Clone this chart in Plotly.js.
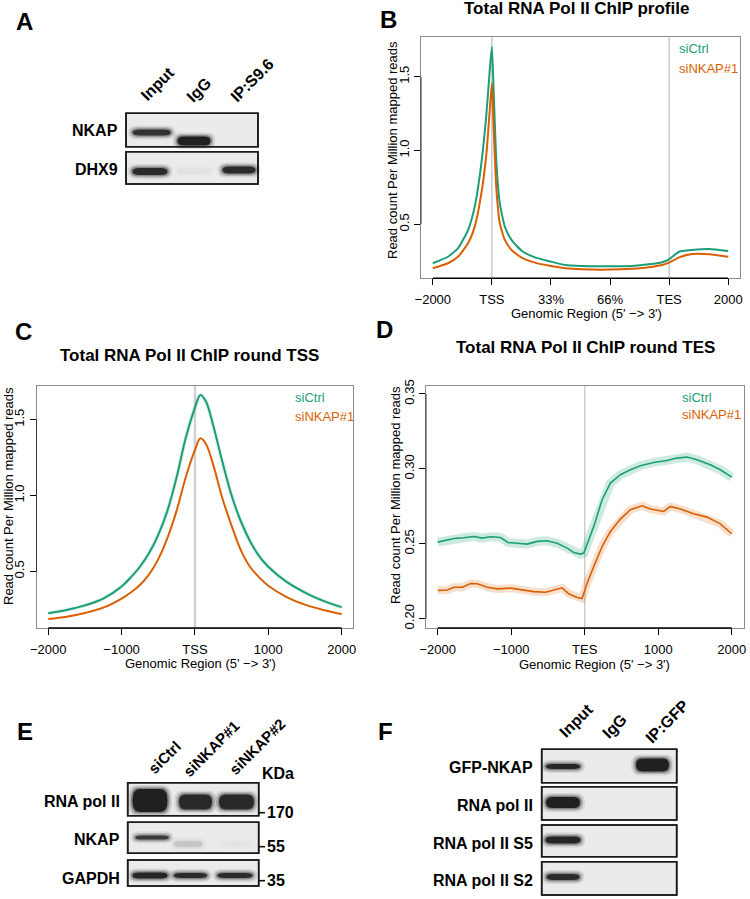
<!DOCTYPE html>
<html><head><meta charset="utf-8">
<script src="https://cdn.plot.ly/plotly-3.0.1.min.js"></script>
<style>html,body{margin:0;padding:0;background:#fff}#chart{width:750px;height:899px}</style>
</head><body><div id="chart"></div>
<script>
// ================= DATA =================
// Panel B: metagene profile (x in scaled units: -2000, TSS, 33%, 66%, TES, 2000)
const profileTickText = ['\u22122000','TSS','33%','66%','TES','2000'];
const profileX    = [0,0.256,0.426,0.596,0.709,0.822,0.908,0.964,1.0,1.03,1.077,1.134,1.219,1.332,1.503,1.729,2.0,2.24,2.52,3.0,3.37,3.66,3.88,4.0,4.17,4.39,4.68,5.0];
const profileCtrl = [0.236,0.280,0.337,0.461,0.619,0.913,1.252,1.544,1.703,1.40,0.913,0.642,0.484,0.394,0.321,0.276,0.247,0.224,0.217,0.216,0.218,0.229,0.243,0.263,0.314,0.326,0.333,0.319];
const profileNKAP = [0.202,0.236,0.280,0.371,0.484,0.710,0.981,1.274,1.455,1.15,0.732,0.507,0.394,0.326,0.274,0.240,0.217,0.202,0.195,0.193,0.199,0.209,0.224,0.240,0.276,0.299,0.297,0.280];

// Panel C: around TSS
const tssTickText = ['\u22122000','\u22121000','TSS','1000','2000'];
const tssX    = [-2000,-1750,-1500,-1250,-1000,-875,-750,-625,-500,-375,-250,-125,0,75,150,250,375,500,625,750,875,1000,1250,1500,1750,2000];
const tssCtrl = [0.224,0.245,0.275,0.32,0.40,0.46,0.53,0.62,0.74,0.90,1.12,1.38,1.58,1.663,1.62,1.46,1.22,1.00,0.83,0.70,0.60,0.53,0.43,0.36,0.305,0.264];
const tssNKAP = [0.185,0.20,0.225,0.26,0.32,0.36,0.41,0.48,0.58,0.72,0.90,1.12,1.30,1.377,1.34,1.20,0.98,0.80,0.64,0.53,0.46,0.405,0.33,0.28,0.245,0.218];

// Panel D: around TES
const tesTickText = ['\u22122000','\u22121000','TES','1000','2000'];
const tesXCtrl = [-2000,-1870,-1780,-1644,-1508,-1395,-1281,-1145,-1046,-919,-783,-647,-511,-375,-240,-149,-58,-13,123,236,349,485,621,757,938,1119,1255,1391,1527,1708,1844,2000];
const tesCtrl  = [0.2511,0.2527,0.2535,0.2540,0.2549,0.2538,0.2547,0.2542,0.2509,0.2504,0.2498,0.2516,0.2520,0.2504,0.2471,0.2442,0.2431,0.2438,0.2616,0.2794,0.2905,0.2961,0.2994,0.3021,0.3043,0.3056,0.3072,0.3079,0.3061,0.3027,0.2994,0.2945];
const tesXNKAP = [-2000,-1870,-1780,-1666,-1553,-1462,-1327,-1191,-1010,-874,-693,-534,-421,-308,-217,-104,-36,32,123,236,349,485,621,779,893,1074,1164,1300,1481,1663,1844,2000];
const tesNKAP  = [0.2188,0.2192,0.2210,0.2210,0.2235,0.2233,0.2210,0.2199,0.2204,0.2192,0.2181,0.2177,0.2192,0.2206,0.2166,0.2142,0.2135,0.2237,0.2349,0.2482,0.2582,0.2665,0.2727,0.2754,0.2732,0.2716,0.2749,0.2732,0.2701,0.2678,0.2633,0.2567];

const seriesNames = ['siCtrl','siNKAP#1'];

// Blots: lane names, row names, band intensities (0..1)
const blotALanes = ['Input','IgG','IP:S9.6'];
const blotARows  = ['NKAP','DHX9'];
const blotABands = [[0.85,1.0,0.0],[0.9,0.03,0.9]];

const blotELanes = ['siCtrl','siNKAP#1','siNKAP#2'];
const blotERows  = ['RNA pol II','NKAP','GAPDH'];
const blotEBands = [[1.0,0.92,0.92],[0.8,0.12,0.02],[0.95,0.9,0.9]];
const blotEMarkers = ['170','55','35'];

const blotFLanes = ['Input','IgG','IP:GFP'];
const blotFRows  = ['GFP-NKAP','RNA pol II','RNA pol II S5','RNA pol II S2'];
const blotFBands = [[0.95,0.0,1.0],[1.0,0.0,0.0],[0.95,0.0,0.0],[0.9,0.0,0.0]];

// ================= STYLE / LAYOUT =================
const W = 750, H = 899;
const GREEN = '#1B9E77', ORANGE = '#D95F02';
const FONT = 'Liberation Sans, Arial, Helvetica, sans-serif';
const fx = x => x / W, fy = y => 1 - y / H;

const shapes = [], annotations = [];

function txt(x, y, text, o) {
  o = o || {};
  annotations.push(Object.assign({
    xref:'paper', yref:'paper', x:fx(x), y:fy(y), text:text, showarrow:false,
    xanchor:'center', yanchor:'middle',
    font:{family:FONT, size:o.size||13, color:o.color||'#000'}
  }, o.extra||{}));
}
function bold(s){return '<b>'+s+'</b>';}

function rr(x0,y0,x1,y1,rx,ry){
  const p = (x,y)=>fx(x).toFixed(5)+','+fy(y).toFixed(5);
  return 'M'+p(x0+rx,y0)+' L'+p(x1-rx,y0)+' Q'+p(x1,y0)+' '+p(x1,y0+ry)+
         ' L'+p(x1,y1-ry)+' Q'+p(x1,y1)+' '+p(x1-rx,y1)+
         ' L'+p(x0+rx,y1)+' Q'+p(x0,y1)+' '+p(x0,y1-ry)+
         ' L'+p(x0,y0+ry)+' Q'+p(x0,y0)+' '+p(x0+rx,y0)+' Z';
}
function pathShape(path, fill){
  shapes.push({type:'path', xref:'paper', yref:'paper', path:path, fillcolor:fill, line:{width:0}});
}
function band(cx, cy, w, h, I){
  if (I <= 0) return;
  const layers = [[5,4,0.10],[3,2.5,0.18],[1.5,1.2,0.3],[0,0,0.85]];
  layers.forEach(l=>{
    const ww = w + 2*l[0], hh = h + 2*l[1];
    pathShape(rr(cx-ww/2, cy-hh/2, cx+ww/2, cy+hh/2, ww/5, hh/2), 'rgba(15,15,15,'+(l[2]*I).toFixed(3)+')');
  });
}
function boxRect(x0,y0,x1,y1,fill){
  shapes.push({type:'rect', xref:'paper', yref:'paper', x0:fx(x0), x1:fx(x1), y0:fy(y1), y1:fy(y0),
    fillcolor:fill||'rgba(0,0,0,0)', line:{color:'#1a1a1a', width:1.6}});
}
function drawBlot(cfg, rows, lanes, bands){
  rows.forEach((r,i)=>{
    const g = cfg.rows[i];
    boxRect(cfg.x0, g.y0, cfg.x1, g.y1, '#ebebeb');
    lanes.forEach((l,j)=>{
      const b = cfg.bands[i][j];
      band(b[0], b[1], b[2], b[3], bands[i][j]);
    });
    boxRect(cfg.x0, g.y0, cfg.x1, g.y1, null);
    txt(cfg.labelX, g.ly, bold(r), {size:16, extra:{xanchor:'right'}});
  });
  lanes.forEach((l,j)=>{
    const p = cfg.lanePos[j];
    txt(p[0], p[1], bold(l), {size:cfg.laneSize||16, extra:{textangle:-45}});
  });
}

// ---- Blot A ----
drawBlot({
  x0:126, x1:258, labelX:120,
  rows:[{y0:113.3,y1:146.7,ly:130.7},{y0:151.7,y1:184,ly:170}],
  bands:[[[151.7,132.5,38,6],[194,141,33,9],[239,132,35,8]],
         [[150,171.5,35,7],[194,171,33,6],[239,170,33,7]]],
  lanePos:[[158,84],[199,89],[252,81]]
}, blotARows, blotALanes, blotABands);

// ---- Blot E ----
drawBlot({
  x0:127.7, x1:258.7, labelX:121.7, laneSize:15,
  rows:[{y0:782.7,y1:815.7,ly:801},{y0:822.3,y1:853.3,ly:839},{y0:860,y1:886,ly:878}],
  bands:[[[150,800.5,35,23],[195.5,802,33,15],[236.5,802,35,15]],
         [[152,837.5,33,4],[188,844,28,6],[236,844,28,5]],
         [[150,875.5,35,6],[190.5,875.5,33,5],[235,875.5,35,5]]],
  lanePos:[[164,757],[211,748],[257,746]]
}, blotERows, blotELanes, blotEBands);
txt(260, 773.3, bold('KDa'), {size:16, extra:{xanchor:'left'}});
[812.7, 846.7, 880.7].forEach((y,i)=>{
  shapes.push({type:'line', xref:'paper', yref:'paper', x0:fx(258.7), x1:fx(265), y0:fy(y), y1:fy(y), line:{color:'#111', width:1.6}});
  txt(265, y, bold(blotEMarkers[i]), {size:16, extra:{xanchor:'left'}});
});

// ---- Blot F ----
drawBlot({
  x0:541.7, x1:676.7, labelX:535,
  rows:[{y0:749.3,y1:782.7,ly:767},{y0:786.7,y1:820,ly:805},{y0:825,y1:856.7,ly:843},{y0:861.7,y1:895,ly:880}],
  bands:[[[563,766.5,34,5],[608,766,34,7],[652.5,765,33,13]],
         [[563,802.5,34,11],[608,803,34,8],[652,803,34,8]],
         [[563,840,35,7],[608,841,34,8],[652,841,34,8]],
         [[563,877,33,6],[608,878,34,8],[652,878,34,8]]],
  lanePos:[[576,720],[614,726],[667,721]]
}, blotFRows, blotFLanes, blotFBands);

// ---- Panel letters ----
[['A',24,21.5],['B',388,19],['C',23.5,331.5],['D',384,329.5],['E',25,731.5],['F',385,731]].forEach(l=>{
  txt(l[1], l[2], bold(l[0]), {size:24});
});

// ---- Chart titles / axis titles / legends ----
txt(576, 8.5, bold('Total RNA Pol II ChIP profile'), {size:17});
txt(189, 355, bold('Total RNA Pol II ChIP round TSS'), {size:17});
txt(585, 347.5, bold('Total RNA Pol II ChIP round TES'), {size:17});
const xTitle = "Genomic Region (5' \u2212> 3')";
const yTitle = 'Read count Per Million mapped reads';
txt(586, 313, xTitle, {size:13});
txt(200, 663, xTitle, {size:13});
txt(594, 664, xTitle, {size:13});
txt(392, 150, yTitle, {size:13, extra:{textangle:-90}});
txt(8, 496, yTitle, {size:13, extra:{textangle:-90}});
txt(395, 495, yTitle, {size:13, extra:{textangle:-90}});
[[676.7,48.3,68.3],[293.3,397.3,416],[680,397.7,415]].forEach(p=>{
  txt(p[0], p[1], seriesNames[0], {size:13, color:GREEN, extra:{xanchor:'left'}});
  txt(p[0], p[2], seriesNames[1], {size:13, color:ORANGE, extra:{xanchor:'left'}});
});

// ---- Axes ----
function xa(domain, range, tickvals, ticktext){
  return {domain:domain, range:range, tickvals:tickvals, ticktext:ticktext, ticks:'outside', ticklen:6, tickwidth:1,
    tickcolor:'#000', showline:true, mirror:true, linecolor:'#8c8c8c', linewidth:1, showgrid:false, zeroline:false,
    tickfont:{family:FONT, size:13, color:'#000'}, ticklabelstandoff:3, fixedrange:true};
}
function ya(domain, range, tickvals, fmt){
  return {domain:domain, range:range, tickvals:tickvals, tickformat:fmt, tickangle:-90, ticks:'outside', ticklen:6, tickwidth:1,
    tickcolor:'#000', showline:true, mirror:true, linecolor:'#8c8c8c', linewidth:1, showgrid:false, zeroline:false,
    tickfont:{family:FONT, size:13, color:'#000'}, fixedrange:true};
}
const domB_x = [421/W, 740/W], domB_y = [fy(278.3), fy(36.7)];
const domC_x = [36.5/W, 353.4/W], domCD_y = [fy(628), fy(386)];
const domD_x = [426/W, 743.5/W];

function vline(xr, yr, x, color, width){
  shapes.push({type:'line', xref:xr, yref:yr+' domain', x0:x, x1:x, y0:0, y1:1, layer:'below', line:{color:color, width:width}});
}
vline('x', 'y', 1, '#bdbdbd', 1.2);
vline('x', 'y', 4, '#bdbdbd', 1.2);
vline('x2', 'y2', 0, '#d2d2d2', 2.5);
vline('x3', 'y3', 0, '#c4c4c4', 1.2);
function axSeg(xr, yr, a, b, horiz){
  if (horiz) shapes.push({type:'line', xref:xr, yref:yr+' domain', x0:a, x1:b, y0:0, y1:0, line:{color:'#000', width:1.4}});
  else shapes.push({type:'line', xref:xr+' domain', yref:yr, x0:0, x1:0, y0:a, y1:b, line:{color:'#333', width:1}});
}
axSeg('x','y',0,5,true); axSeg('x','y',0.5,1.5,false);
axSeg('x2','y2',-2000,2000,true); axSeg('x2','y2',0.5,1.5,false);
axSeg('x3','y3',-2000,2000,true); axSeg('x3','y3',0.2,0.35,false);

// ---- Traces ----
const traces = [
  {x:profileX, y:profileCtrl, xaxis:'x', yaxis:'y', mode:'lines', line:{color:GREEN, width:2, shape:'spline', smoothing:0.5}, name:seriesNames[0]},
  {x:profileX, y:profileNKAP, xaxis:'x', yaxis:'y', mode:'lines', line:{color:ORANGE, width:2, shape:'spline', smoothing:0.5}, name:seriesNames[1]},
  {x:tssX, y:tssCtrl, xaxis:'x2', yaxis:'y2', mode:'lines', line:{color:'rgba(27,158,119,0.15)', width:4, shape:'spline', smoothing:1}, hoverinfo:'skip'},
  {x:tssX, y:tssCtrl, xaxis:'x2', yaxis:'y2', mode:'lines', line:{color:GREEN, width:2, shape:'spline', smoothing:1}, name:seriesNames[0]},
  {x:tssX, y:tssNKAP, xaxis:'x2', yaxis:'y2', mode:'lines', line:{color:ORANGE, width:2, shape:'spline', smoothing:1}, name:seriesNames[1]},
  {x:tesXCtrl, y:tesCtrl, xaxis:'x3', yaxis:'y3', mode:'lines', line:{color:'rgba(27,158,119,0.22)', width:9}, hoverinfo:'skip'},
  {x:tesXNKAP, y:tesNKAP, xaxis:'x3', yaxis:'y3', mode:'lines', line:{color:'rgba(217,95,2,0.2)', width:8}, hoverinfo:'skip'},
  {x:tesXCtrl, y:tesCtrl, xaxis:'x3', yaxis:'y3', mode:'lines', line:{color:GREEN, width:1.6}, name:seriesNames[0]},
  {x:tesXNKAP, y:tesNKAP, xaxis:'x3', yaxis:'y3', mode:'lines', line:{color:ORANGE, width:1.6}, name:seriesNames[1]}
];

const layout = {
  width:W, height:H, margin:{l:0,r:0,t:0,b:0}, paper_bgcolor:'#fff', plot_bgcolor:'#fff', showlegend:false,
  font:{family:FONT, color:'#000'},
  xaxis: Object.assign(xa(domB_x, [-0.2,5.2], [0,1,2,3,4,5], profileTickText), {anchor:'y'}),
  yaxis: Object.assign(ya(domB_y, [0.134,1.771], [0.5,1,1.5], '.1f'), {anchor:'x'}),
  xaxis2: Object.assign(xa(domC_x, [-2160,2160], [-2000,-1000,0,1000,2000], tssTickText), {anchor:'y2'}),
  yaxis2: Object.assign(ya(domCD_y, [0.126,1.722], [0.5,1,1.5], '.1f'), {anchor:'x2'}),
  xaxis3: Object.assign(xa(domD_x, [-2160,2160], [-2000,-1000,0,1000,2000], tesTickText), {anchor:'y3'}),
  yaxis3: Object.assign(ya(domCD_y, [0.1938,0.3553], [0.2,0.25,0.3,0.35], '.2f'), {anchor:'x3'}),
  shapes:shapes, annotations:annotations
};
Plotly.newPlot('chart', traces, layout, {displayModeBar:false, staticPlot:true});
</script></body></html>
